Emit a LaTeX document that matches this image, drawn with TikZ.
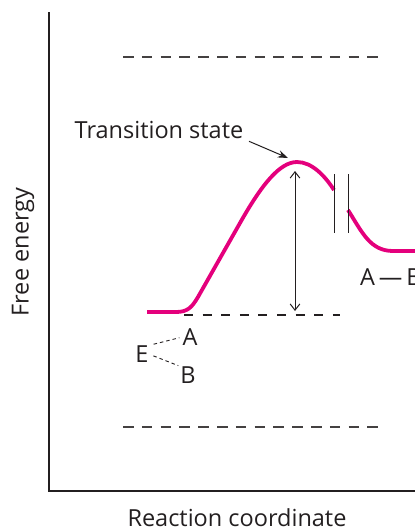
\documentclass[tikz,border=0pt]{standalone}
\usepackage{fontspec}
\setmainfont{Open Sans}
\usepackage{xcolor}
\usetikzlibrary{arrows.meta}
\definecolor{curvepink}{RGB}{228,0,124}
\definecolor{ink}{RGB}{35,31,32}

\begin{document}
\begin{tikzpicture}[
  x=1pt, y=-1pt,
  lbl/.style={font=\fontsize{23.5}{28}\selectfont, text=ink, inner sep=0pt},
  axis/.style={line width=2.4pt, draw=ink, line join=miter},
  lvl/.style={line width=1.4pt, draw=ink!85, dash pattern=on 10.5pt off 8.3pt},
  mid/.style={line width=1.2pt, draw=ink, dash pattern=on 9pt off 9.6pt},
  bond/.style={line width=0.9pt, draw=ink, dash pattern=on 3.5pt off 3pt},
  brk/.style={line width=1pt, draw=ink},
  arr/.style={-{Stealth[length=3.6mm, width=2.6mm]}, line width=1pt, draw=ink},
  gap/.style={{Straight Barb[length=2.2mm, width=3.4mm]}-{Straight Barb[length=2.2mm, width=3.4mm]}, line width=1pt, draw=ink},
  path/.style={line width=3.8pt, draw=curvepink, line join=round}
]
\useasboundingbox (0,0) rectangle (415,531);

% axes
\coordinate (ytop) at (49,12);
\coordinate (origin) at (49,491);
\coordinate (xend) at (416,491);
\draw[axis] (ytop) -- (origin) -- (xend);
\node[lbl, rotate=90] (yLab) at (23,252) {Free energy};
\node[lbl] (xLab) at (237,518) {Reaction coordinate};

% energy levels
\coordinate (upL) at (123,57);
\coordinate (upR) at (380,57);
\coordinate (loL) at (123,427);
\coordinate (loR) at (380,427);
\coordinate (gsL) at (184,315);
\coordinate (gsR) at (340,315);
\draw[lvl] (upL) -- (upR);
\draw[lvl] (loL) -- (loR);
\draw[mid] (gsL) -- (gsR);

% reaction path
\draw[path] (147,312) -- (176,312) .. controls (188,312) and (192,307) .. (198,297)
  -- (240,223) .. controls (262,184) and (280,162) .. (297,162)
  .. controls (312,162) and (325,176) .. (334,190);
\draw[path] (348,210) .. controls (362,232) and (370,251) .. (393,251) -- (418,251);

% break marks
\coordinate (brkA1) at (334,174);
\coordinate (brkA2) at (334,233);
\coordinate (brkB1) at (348,174);
\coordinate (brkB2) at (348,233);
\draw[brk] (brkA1) -- (brkA2);
\draw[brk] (brkB1) -- (brkB2);

% transition state
\node[lbl] (ts) at (159,130) {Transition state};
\coordinate (peak) at (288,158);
\draw[arr, shorten <=6pt] (ts.south east) -- (peak);

% activation gap
\coordinate (tsLevel) at (295,171);
\coordinate (gsLevel) at (295,311);
\draw[gap] (tsLevel) -- (gsLevel);

% enzyme-substrate and product
\node[lbl] (eLab) at (142,354) {E};
\node[lbl] (aLab) at (190,337) {A};
\node[lbl] (bLab) at (188,375) {B};
\draw[bond, shorten <=5pt, shorten >=3pt] (eLab.north east) -- (aLab.west);
\draw[bond, shorten <=5pt, shorten >=2pt] (eLab.east) -- (bLab.north west);
\node[lbl, anchor=west] (prod) at (360,277) {A\,—\,B};
\end{tikzpicture}
\end{document}
